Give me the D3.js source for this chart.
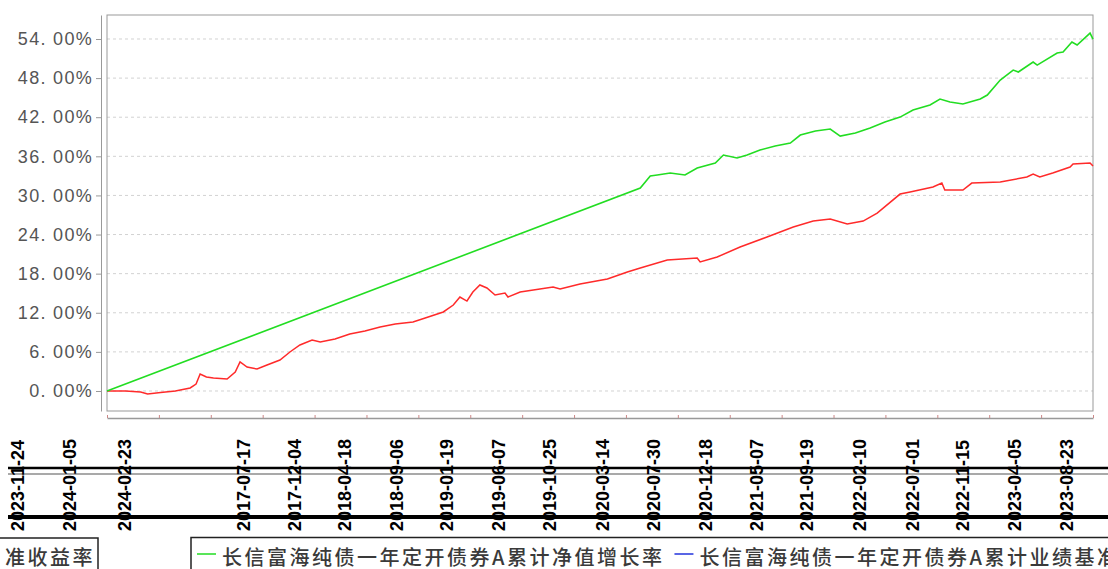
<!DOCTYPE html>
<html>
<head>
<meta charset="utf-8">
<script src="https://cdn.jsdelivr.net/npm/d3@7"></script>
<style>
  body { margin: 0; background: #fff; }
  svg { display: block; }
</style>
</head>
<body>
<script>
/* global d3 */

// 累计净值增长率 (green)
var navDates = ["2016-07-13","2020-06-25","2020-07-22","2020-08-10","2020-09-14","2020-10-24","2020-11-26",
  "2021-01-14","2021-02-05","2021-03-14","2021-04-10","2021-05-15","2021-06-25","2021-08-05","2021-09-01",
  "2021-10-12","2021-11-21","2021-12-18","2022-01-28","2022-03-09","2022-04-18","2022-05-29","2022-07-03",
  "2022-08-18","2022-09-14","2022-10-11","2022-11-15","2023-01-01","2023-01-20","2023-02-24","2023-03-31",
  "2023-04-14","2023-05-24","2023-06-04","2023-07-28","2023-08-13","2023-09-06","2023-09-20","2023-10-25","2023-11-02"];
var navValues = [0, 31.13, 32.98, 33.13, 33.44, 33.13, 34.20,
  34.97, 36.20, 35.74, 36.20, 36.96, 37.58, 38.04, 39.26,
  39.88, 40.18, 39.11, 39.57, 40.34, 41.26, 42.02, 43.10,
  43.87, 44.79, 44.33, 44.02, 44.79, 45.40, 47.70, 49.23,
  48.93, 50.46, 50.00, 51.84, 51.99, 53.53, 53.07, 54.91, 53.99];

// 累计业绩基准收益率 (red)
var benchDates = ["2016-07-13","2016-09-01","2016-10-12","2016-10-31","2016-12-05","2017-01-14","2017-02-23",
  "2017-03-11","2017-03-22","2017-04-08","2017-04-27","2017-06-03","2017-06-25","2017-07-08","2017-07-27",
  "2017-08-23","2017-09-19","2017-10-24","2017-11-20","2017-12-17","2018-01-19","2018-02-10","2018-03-22",
  "2018-05-01","2018-06-11","2018-07-22","2018-09-01","2018-10-19","2018-11-21","2019-01-09","2019-02-05",
  "2019-02-23","2019-03-14","2019-03-30","2019-04-18","2019-05-07","2019-05-29","2019-06-25","2019-07-03",
  "2019-08-05","2019-11-02","2019-11-21","2020-01-14","2020-03-28","2020-05-21","2020-06-25","2020-09-06",
  "2020-11-26","2020-12-04","2021-01-19","2021-03-22","2021-06-03","2021-08-13","2021-10-06","2021-11-21",
  "2022-01-06","2022-02-18","2022-03-28","2022-05-29","2022-06-25","2022-08-26","2022-09-19","2022-09-27",
  "2022-11-15","2022-12-09","2023-02-24","2023-05-07","2023-05-24","2023-06-11","2023-07-16","2023-09-01",
  "2023-09-09","2023-10-25","2023-11-02"];
var benchValues = [0, 0, -0.15, -0.46, -0.23, 0, 0.46,
  1.07, 2.61, 2.15, 1.99, 1.84, 2.91, 4.45, 3.68,
  3.37, 3.99, 4.75, 5.98, 7.06, 7.82, 7.52, 7.98,
  8.74, 9.20, 9.82, 10.28, 10.58, 11.20, 12.12, 13.19,
  14.42, 13.80, 15.18, 16.26, 15.80, 14.72, 15.03, 14.42,
  15.18, 15.95, 15.64, 16.41, 17.18, 18.25, 18.87, 20.09,
  20.40, 19.79, 20.55, 22.09, 23.62, 25.15, 26.07, 26.38,
  25.61, 26.07, 27.30, 30.21, 30.52, 31.29, 31.90, 30.83,
  30.83, 31.90, 32.06, 32.82, 33.28, 32.82, 33.44, 34.36,
  34.82, 34.97, 34.51];

var yTicks = [0, 6, 12, 18, 24, 30, 36, 42, 48, 54];
var labelDates = ["2017-07-17","2017-12-04","2018-04-18","2018-09-06","2019-01-19","2019-06-07","2019-10-25",
  "2020-03-14","2020-07-30","2020-12-18","2021-05-07","2021-09-19","2022-02-10","2022-07-01","2022-11-15",
  "2023-04-05","2023-08-23"];
var ghostLabels = ["2023-11-24","2024-01-05","2024-02-23"];
var seriesNames = ["长信富海纯债一年定开债券A累计净值增长率", "长信富海纯债一年定开债券A累计业绩基准收益率"];

var W = 1108, H = 569,
    plotL = 107, plotR = 1093, plotT = 15, plotB = 411;

var parse = d3.timeParse("%Y-%m-%d");

var svg = d3.select("body").append("svg")
    .attr("width", W)
    .attr("height", H)
    .attr("viewBox", "0 0 " + W + " " + H);

var x = d3.scaleTime()
    .domain([parse(navDates[0]), parse(navDates[navDates.length - 1])])
    .range([plotL, plotR]);

var y = d3.scaleLinear()
    .domain([-3.07, 57.68])
    .range([plotB, plotT]);

// grid
svg.append("g").selectAll("line")
    .data(yTicks)
    .enter().append("line")
    .attr("x1", plotL).attr("x2", plotR)
    .attr("y1", function(d){ return y(d); })
    .attr("y2", function(d){ return y(d); })
    .attr("stroke", "#d2d2d2")
    .attr("stroke-dasharray", "3,3");

// frame
svg.append("rect")
    .attr("x", plotL).attr("y", plotT)
    .attr("width", plotR - plotL).attr("height", plotB - plotT)
    .attr("fill", "none")
    .attr("stroke", "#999");

// y axis
var yAxis = svg.append("g")
    .attr("transform", "translate(101,0)")
    .call(d3.axisLeft(y).tickValues(yTicks).tickSize(5).tickSizeOuter(0).tickPadding(3)
      .tickFormat(function(d){ return d.toFixed(2).replace(".", ". ") + "%"; }));
yAxis.select(".domain").attr("stroke", "#999");
yAxis.selectAll(".tick line").attr("stroke", "#999");
yAxis.selectAll("text")
    .style("font-family", "'Liberation Sans', Arial, sans-serif")
    .style("font-size", "18px")
    .style("letter-spacing", "1.3px")
    .attr("fill", "#555");

// x axis (tick marks evenly across the axis)
var tickMarks = d3.range(20).map(function(i){ return x.invert(plotL + i * (plotR - plotL) / 19); });
var xAxis = svg.append("g")
    .attr("transform", "translate(0,418)")
    .call(d3.axisBottom(x).tickValues(tickMarks).tickSize(3).tickSizeOuter(0).tickFormat(""));
xAxis.select(".domain").attr("stroke", "#999").attr("stroke-width", 1.5);
xAxis.selectAll(".tick line").attr("stroke", "#c88").attr("transform", "translate(0,-3)");

// glitchy bars behind the labels
var bars = [{y: 468, w: 2.5, c: "#000"}, {y: 474, w: 1.2, c: "#555"}, {y: 517, w: 4, c: "#000"}];
svg.append("g").selectAll("line")
    .data(bars)
    .enter().append("line")
    .attr("x1", 8).attr("x2", W)
    .attr("y1", function(d){ return d.y; })
    .attr("y2", function(d){ return d.y; })
    .attr("stroke", function(d){ return d.c; })
    .attr("stroke-width", function(d){ return d.w; });

// rotated date labels
var fmt = d3.timeFormat("%Y-%m-%d");
svg.append("g").selectAll("text")
    .data(labelDates)
    .enter().append("text")
    .attr("transform", function(d){ return "translate(" + x(parse(d)) + ",531) rotate(-90)"; })
    .attr("dy", "0.35em")
    .style("font-family", "'Liberation Sans', Arial, sans-serif")
    .style("font-size", "18px")
    .style("font-weight", "bold")
    .attr("fill", "#000")
    .text(function(d){ return fmt(parse(d)); });

svg.append("g").selectAll("text")
    .data(ghostLabels)
    .enter().append("text")
    .attr("transform", function(d, i){ return "translate(" + [18, 70, 125][i] + ",531) rotate(-90)"; })
    .attr("dy", "0.35em")
    .style("font-family", "'Liberation Sans', Arial, sans-serif")
    .style("font-size", "18px")
    .style("font-weight", "bold")
    .attr("fill", "#000")
    .text(function(d){ return d; });

// lines
var line = d3.line()
    .x(function(d){ return x(d.date); })
    .y(function(d){ return y(d.value); });

var nav = navDates.map(function(d, i){ return {date: parse(d), value: navValues[i]}; });
var bench = benchDates.map(function(d, i){ return {date: parse(d), value: benchValues[i]}; });

svg.append("path")
    .datum(bench)
    .attr("fill", "none")
    .attr("stroke", "#ff2a2a")
    .attr("stroke-width", 1.5)
    .attr("d", line);

svg.append("path")
    .datum(nav)
    .attr("fill", "none")
    .attr("stroke", "#22dd22")
    .attr("stroke-width", 1.6)
    .attr("d", line);

// legend
var legFont = "'Noto Sans CJK SC', 'Noto Sans', sans-serif";
var leg = svg.append("g");
leg.append("rect")
    .attr("x", 191).attr("y", 537.5)
    .attr("width", 1000).attr("height", 45)
    .attr("fill", "#fff")
    .attr("stroke", "#222")
    .attr("stroke-width", 1.5);

var legColors = ["#22dd22", "#2233dd"];
var lx = 197;
seriesNames.forEach(function(name, i){
  leg.append("line")
      .attr("x1", lx).attr("x2", lx + 19)
      .attr("y1", 554).attr("y2", 554)
      .attr("stroke", legColors[i])
      .attr("stroke-width", 1.5);
  var t = leg.append("text")
      .attr("x", lx + 25)
      .attr("y", 556)
      .attr("dominant-baseline", "central")
      .style("font-family", legFont)
      .style("font-size", "20px")
      .style("font-weight", 500)
      .style("letter-spacing", "2.5px")
      .attr("fill", "#3a3a3a")
      .text(name);
  lx = lx + 25 + t.node().getComputedTextLength() + 10;
});

// wrapped tail of the legend on the left
svg.append("clipPath").attr("id", "tailclip")
  .append("rect").attr("x", 5).attr("y", 530).attr("width", 100).attr("height", 40);
svg.append("rect")
    .attr("x", -10).attr("y", 538)
    .attr("width", 108).attr("height", 45)
    .attr("fill", "#fff")
    .attr("stroke", "#222")
    .attr("stroke-width", 1.5);
svg.append("text")
    .attr("clip-path", "url(#tailclip)")
    .attr("x", 95)
    .attr("y", 556)
    .attr("text-anchor", "end")
    .attr("dominant-baseline", "central")
    .style("font-family", legFont)
    .style("font-size", "20px")
    .style("font-weight", 500)
    .style("letter-spacing", "2.5px")
    .attr("fill", "#3a3a3a")
    .text(seriesNames[1].slice(-4));
</script>
</body>
</html>
